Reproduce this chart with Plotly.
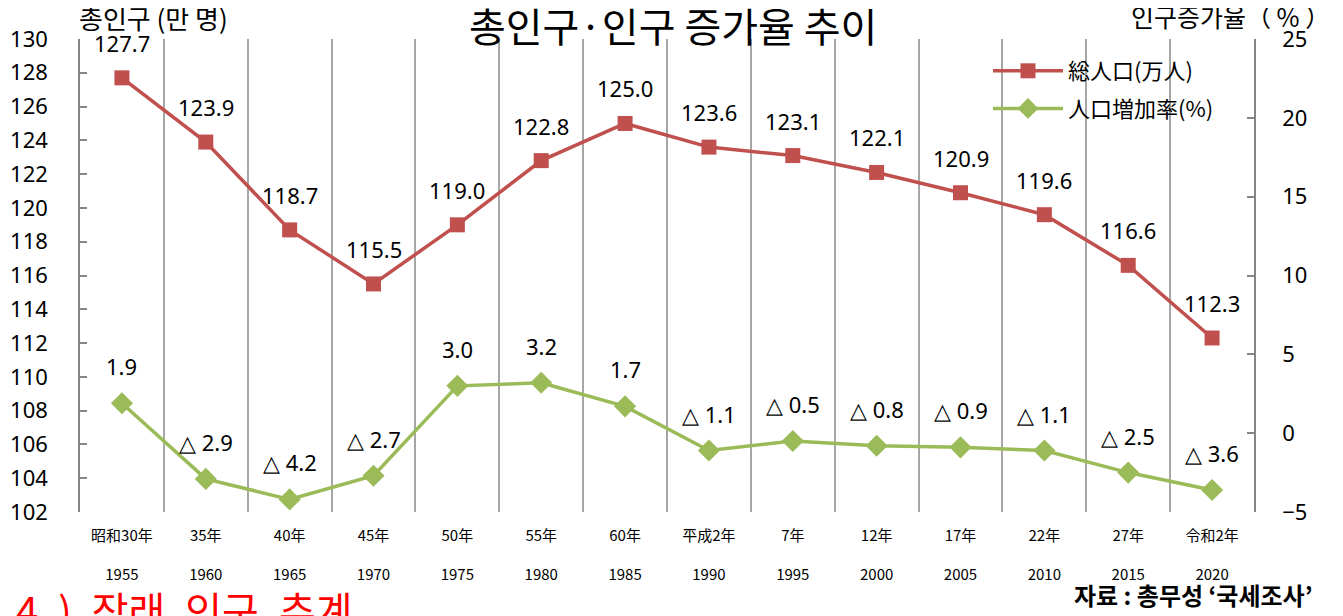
import plotly.graph_objects as go

eras = ["昭和30年", "35年", "40年", "45年", "50年", "55年", "60年", "平成2年",
        "7年", "12年", "17年", "22年", "27年", "令和2年"]
years = ["1955", "1960", "1965", "1970", "1975", "1980", "1985", "1990",
         "1995", "2000", "2005", "2010", "2015", "2020"]
population = [127.7, 123.9, 118.7, 115.5, 119.0, 122.8, 125.0, 123.6,
              123.1, 122.1, 120.9, 119.6, 116.6, 112.3]
growth = [1.9, -2.9, -4.2, -2.7, 3.0, 3.2, 1.7, -1.1,
          -0.5, -0.8, -0.9, -1.1, -2.5, -3.6]

RED = "#C0504D"
GREEN = "#9BBB59"
FONT = "Noto Sans CJK KR"
NUMFONT = "Noto Sans"
GRID = "#A6A6A6"

W, H = 1343, 616
OFF = 8  # page body margin
# plot area in page pixels: x 80..1254, y 39..512
pl, pt = 80 - OFF, 39 - OFF
pw, ph = 1174, 473
pr = W - pl - pw
pb = H - pt - ph

def px(x):
    return (x - OFF - pl) / pw

def py(y):
    return (pt + ph - (y - OFF)) / ph

cats = [f"{e}<br> <br>{y}" for e, y in zip(eras, years)]

fig = go.Figure()
fig.add_trace(go.Scatter(
    x=cats, y=population, name="総人口(万人)", mode="lines+markers",
    line=dict(color=RED, width=3.5), legendgroup="a",
    marker=dict(symbol="square", size=15, color=RED),
    yaxis="y"))
fig.add_trace(go.Scatter(
    x=cats, y=growth, name="人口増加率(%)", mode="lines+markers",
    line=dict(color=GREEN, width=3.5), legendgroup="b",
    marker=dict(symbol="diamond", size=17, color=GREEN),
    yaxis="y2"))

ann = []
for c, v in zip(cats, population):
    ann.append(dict(x=c, y=v, xref="x", yref="y", text=f"{v:.1f}",
                    showarrow=False, yshift=35,
                    font=dict(family=NUMFONT, size=22, color="#000000")))
for c, v in zip(cats, growth):
    t = f"{v:.1f}" if v >= 0 else f"△ {abs(v):.1f}"
    ann.append(dict(x=c, y=v, xref="x", yref="y2", text=t,
                    showarrow=False, yshift=37,
                    font=dict(family=NUMFONT, size=22, color="#000000")))

ann += [
    dict(text="총인구·인구 증가율 추이", x=px(673), y=py(25), xref="paper", yref="paper",
         showarrow=False, xanchor="center", yanchor="middle",
         font=dict(family=FONT, size=40, color="#000000")),
    dict(text="총인구 (만 명)", x=px(153), y=py(18), xref="paper", yref="paper",
         showarrow=False, xanchor="center", yanchor="middle",
         font=dict(family=FONT, size=26, color="#000000")),
    dict(text="인구증가율（ % ）", x=px(1230), y=py(16), xref="paper", yref="paper",
         showarrow=False, xanchor="center", yanchor="middle",
         font=dict(family=FONT, size=25, color="#000000")),
    dict(text="4\u2002)\u2002장래\u2002인구\u2002추계", x=px(14), y=py(578), xref="paper", yref="paper",
         showarrow=False, xanchor="left", yanchor="top",
         font=dict(family=FONT, size=40, color="#FF0000")),
    dict(text="<b>자료 : 총무성 ‘국세조사’</b>", x=px(1314), y=py(594), xref="paper", yref="paper",
         showarrow=False, xanchor="right", yanchor="middle",
         font=dict(family=FONT, size=24, color="#000000")),
]

fig.update_layout(
    width=W, height=H,
    margin=dict(l=pl, r=pr, t=pt, b=pb, autoexpand=False),
    paper_bgcolor="white", plot_bgcolor="white",
    font=dict(family=FONT, color="#000000"),
    showlegend=True,
    legend=dict(x=px(988), y=py(50), xanchor="left", yanchor="top",
                font=dict(family=FONT, size=22, color="#000000"),
                bgcolor="rgba(0,0,0,0)", itemwidth=70, tracegroupgap=6),
    xaxis=dict(
        type="category", range=[-0.5, len(cats) - 0.5],
        showgrid=True, gridcolor=GRID, gridwidth=1.5,
        tickson="boundaries", ticks="", showline=False, zeroline=False,
        tickfont=dict(family=FONT, size=15, color="#000000"),
        ticklabelstandoff=13, automargin=False),
    yaxis=dict(
        range=[102, 130], dtick=2, showgrid=False, zeroline=False,
        showline=True, linecolor="#868686", linewidth=1.5,
        ticks="inside", ticklen=7, tickcolor="#868686", tickwidth=1.5,
        tickfont=dict(family=NUMFONT, size=22, color="#000000"),
        ticklabelstandoff=26, automargin=False),
    yaxis2=dict(
        range=[-5, 25], dtick=5, overlaying="y", side="right",
        showgrid=False, zeroline=False,
        showline=True, linecolor="#868686", linewidth=1.5,
        ticks="inside", ticklen=7, tickcolor="#868686", tickwidth=1.5,
        tickfont=dict(family=NUMFONT, size=22, color="#000000"),
        ticklabelstandoff=22, automargin=False),
    annotations=ann,
)

fig.write_html("out.html")
